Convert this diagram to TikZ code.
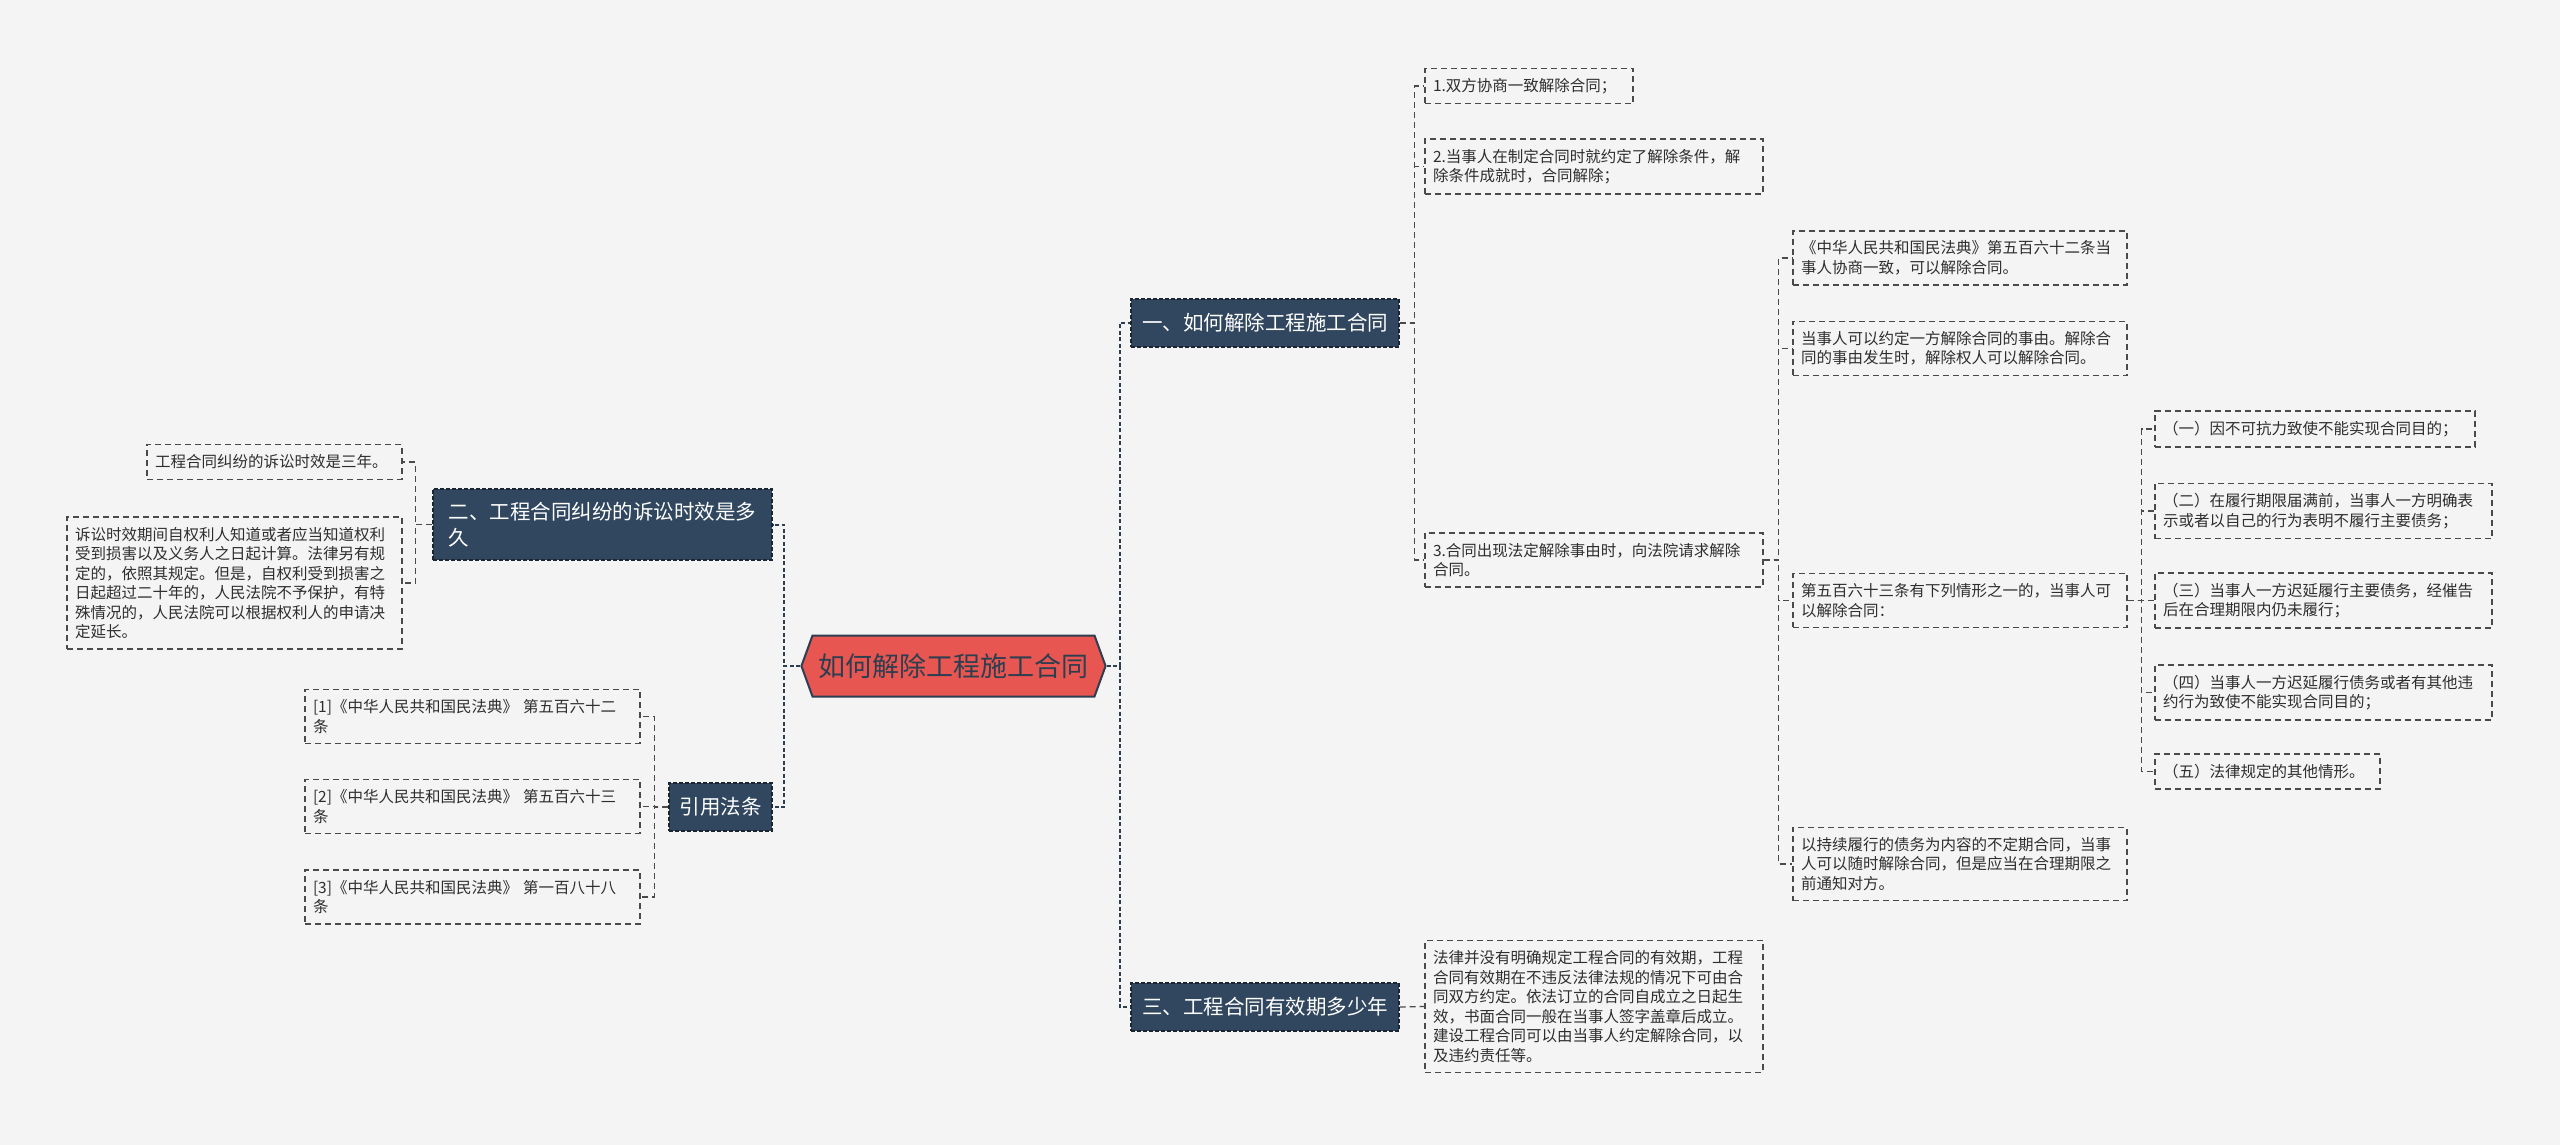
\documentclass[tikz,border=0pt]{standalone}
\usepackage{fontspec}
\setmainfont{Noto Sans CJK SC}
\usepackage{xcolor}
\usepackage{tikz}
\usetikzlibrary{shapes.symbols}

\definecolor{bgcol}{HTML}{F4F4F4}
\definecolor{navy}{HTML}{2C3E50}
\definecolor{slate}{HTML}{30475F}
\definecolor{rootred}{HTML}{E85651}
\definecolor{linegray}{HTML}{4A4A4A}
\definecolor{txtgray}{HTML}{2E2E2E}

\begin{document}
\begin{tikzpicture}[
  x=1pt, y=-1pt,
  every node/.style = {font=\fontsize{15.5}{19.5}\selectfont, text=txtgray},
  trunk/.style      = {draw=navy, line width=2pt, dash pattern=on 4pt off 2.5pt},
  link/.style       = {draw=linegray, line width=1.3pt, dash pattern=on 6pt off 4pt},
  rootbox/.style    = {signal, signal to=east and west, signal pointer angle=140,
                       fill=rootred, draw=navy, line width=2pt,
                       minimum width=301pt, minimum height=61pt, inner xsep=6pt,
                       font=\fontsize{27}{32}\selectfont, text=navy},
  branch/.style     = {rectangle, fill=slate, draw=navy!60!black, line width=1.2pt,
                       dash pattern=on 4pt off 2pt, text=white, align=left,
                       inner xsep=9pt, inner ysep=13pt, minimum height=48pt,
                       font=\fontsize{20.5}{26}\selectfont},
  leaf/.style       = {rectangle, draw=linegray, line width=1.3pt,
                       dash pattern=on 6pt off 4pt, align=left,
                       inner xsep=8pt, inner ysep=10pt, text width=#1},
]

%% ── Canvas ────────────────────────────────────────────────────────────────
\fill[bgcol] (0,0) rectangle (2560,1145);
\useasboundingbox (0,0) rectangle (2560,1145);

%% ── Centre ────────────────────────────────────────────────────────────────
\node[rootbox] (root) at (953.5,666) {如何解除工程施工合同};

% ── RIGHT SIDE ──────────────────────────────────────────────────────────────
\node[branch, minimum width=268pt] (b1) at (1265,323) {一、如何解除工程施工合同};
\node[branch, minimum width=268pt] (b3) at (1265,1007) {三、工程合同有效期多少年};

% children of b1
\node[leaf=192pt] (n1) at (1529,86) {1.双方协商一致解除合同；};
\node[leaf=322pt] (n2) at (1594,166.5)
  {2.当事人在制定合同时就约定了解除条件，解\\除条件成就时，合同解除；};
\node[leaf=322pt] (n3) at (1594,560)
  {3.合同出现法定解除事由时，向法院请求解除\\合同。};

% children of n3
\node[leaf=318pt] (m1) at (1960,258)
  {《中华人民共和国民法典》第五百六十二条当\\事人协商一致，可以解除合同。};
\node[leaf=318pt] (m2) at (1960,348.5)
  {当事人可以约定一方解除合同的事由。解除合\\同的事由发生时，解除权人可以解除合同。};
\node[leaf=318pt] (m3) at (1960,600.5)
  {第五百六十三条有下列情形之一的，当事人可\\以解除合同：};
\node[leaf=318pt] (m4) at (1960,864)
  {以持续履行的债务为内容的不定期合同，当事\\人可以随时解除合同，但是应当在合理期限之\\前通知对方。};

% children of m3
\node[leaf=304pt] (k1) at (2315,429) {（一）因不可抗力致使不能实现合同目的；};
\node[leaf=321pt] (k2) at (2323.5,511)
  {（二）在履行期限届满前，当事人一方明确表\\示或者以自己的行为表明不履行主要债务；};
\node[leaf=321pt] (k3) at (2323.5,600.5)
  {（三）当事人一方迟延履行主要债务，经催告\\后在合理期限内仍未履行；};
\node[leaf=321pt] (k4) at (2323.5,692.5)
  {（四）当事人一方迟延履行债务或者有其他违\\约行为致使不能实现合同目的；};
\node[leaf=209pt] (k5) at (2267.5,771.5) {（五）法律规定的其他情形。};

% child of b3
\node[leaf=322pt] (p1) at (1594,1006.5)
  {法律并没有明确规定工程合同的有效期，工程\\合同有效期在不违反法律法规的情况下可由合\\同双方约定。依法订立的合同自成立之日起生\\效，书面合同一般在当事人签字盖章后成立。\\建设工程合同可以由当事人约定解除合同，以\\及违约责任等。};

% ── LEFT SIDE ───────────────────────────────────────────────────────────────
\node[branch, minimum width=339pt] (b2) at (602.5,524.5)
  {二、工程合同纠纷的诉讼时效是多\\久};
\node[branch, minimum width=103pt, inner xsep=6pt] (b4) at (720.5,807) {引用法条};

% children of b2
\node[leaf=239pt] (s1) at (274.5,462) {工程合同纠纷的诉讼时效是三年。};
\node[leaf=319pt] (s2) at (234.5,583)
  {诉讼时效期间自权利人知道或者应当知道权利\\受到损害以及义务人之日起计算。法律另有规\\定的，依照其规定。但是，自权利受到损害之\\日起超过二十年的，人民法院不予保护，有特\\殊情况的，人民法院可以根据权利人的申请决\\定延长。};

% children of b4
\node[leaf=319pt] (c1) at (472.5,716.5) {[1]《中华人民共和国民法典》 第五百六十二\\条};
\node[leaf=319pt] (c2) at (472.5,806.5) {[2]《中华人民共和国民法典》 第五百六十三\\条};
\node[leaf=319pt] (c3) at (472.5,897) {[3]《中华人民共和国民法典》 第一百八十八\\条};

%% ── Connectors ────────────────────────────────────────────────────────────
\foreach \b in {b1,b3}
  \draw[trunk] (root.east) -- ++(13,0) |- (\b.west);
\foreach \b in {b2,b4}
  \draw[trunk] (root.west) -- ++(-16,0) |- (\b.east);

\foreach \c in {n1,n2,n3}
  \draw[link] (b1.east) -- ++(15,0) |- (\c.west);
\foreach \c in {m1,m2,m3,m4}
  \draw[link] (n3.east) -- ++(15,0) |- (\c.west);
\foreach \c in {k1,k2,k3,k4,k5}
  \draw[link] (m3.east) -- ++(14,0) |- (\c.west);
\draw[link] (b3.east) -- (p1.west);

\foreach \c in {s1,s2}
  \draw[link] (b2.west) -- ++(-17,0) |- (\c.east);
\foreach \c in {c1,c2,c3}
  \draw[link] (b4.west) -- ++(-14,0) |- (\c.east);

\end{tikzpicture}
\end{document}
